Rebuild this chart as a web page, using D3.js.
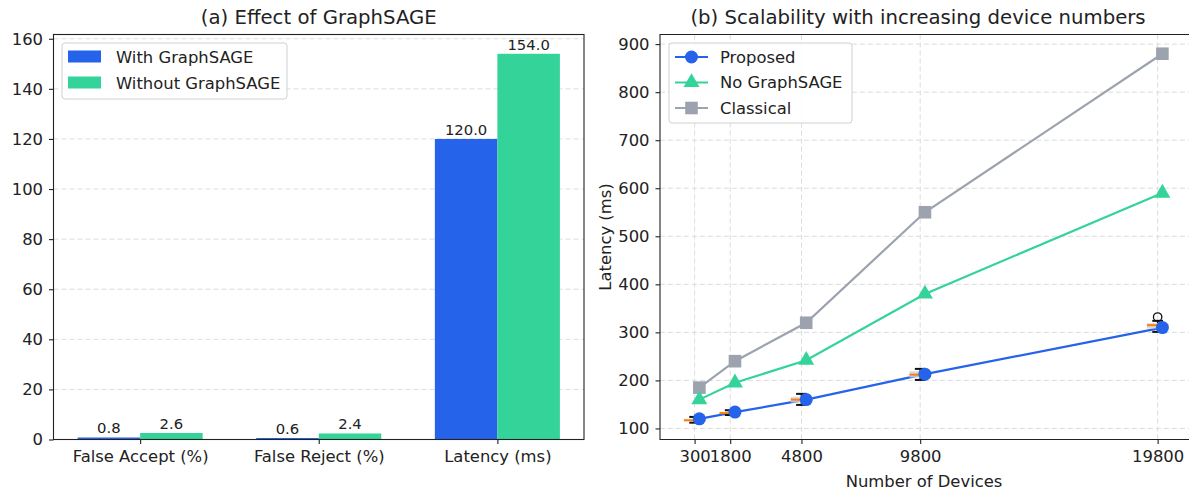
<!DOCTYPE html>
<html>
<head>
<meta charset="utf-8">
<script src="https://cdn.jsdelivr.net/npm/d3@7"></script>
<style>
  body { margin: 0; background: #fff; }
  svg { display: block; font-family: 'DejaVu Sans', sans-serif; }
  .grid line { stroke: #dcdcdc; stroke-dasharray: 5,3; stroke-width: 1; }
</style>
</head>
<body>
<div id="chart"></div>
<script>
// Panel (a) data
const metrics = ['False Accept (%)', 'False Reject (%)', 'Latency (ms)'];
const withGraphSAGE = [0.8, 0.6, 120.0];
const withoutGraphSAGE = [2.6, 2.4, 154.0];
const yTicksA = [0, 20, 40, 60, 80, 100, 120, 140, 160];

// Panel (b) data
const devices = [500, 2000, 5000, 10000, 20000];
const deviceTicks = [300, 1800, 4800, 9800, 19800];
const proposed = [120, 134, 160, 213, 310];
const noGraphSAGE = [160, 195, 242, 380, 590];
const classical = [185, 240, 320, 550, 880];
const yTicksB = [100, 200, 300, 400, 500, 600, 700, 800, 900];

// boxplots of the proposed latency, drawn at the tick positions
const boxMin = [112, 128, 149, 201, 301];
const boxQ1 = [115, 130, 154, 206, 308];
const boxMedian = [117, 132, 160, 212, 315];
const boxQ3 = [120, 135, 166, 219, 319];
const boxMax = [124, 138, 172, 224, 324];
const boxOutliers = [[], [], [], [], [332]];

const blue = '#2563EB', green = '#34D399', gray = '#9CA3AF';
const FONT = "'DejaVu Sans', sans-serif";
const TXT = '16.4px';

const W = 1189, H = 491;
const svg = d3.select('#chart').append('svg').attr('width', W).attr('height', H);

function styleAxis(g) {
  g.select('.domain').remove();
  g.attr('font-family', FONT).attr('font-size', TXT);
  g.selectAll('.tick line').attr('stroke', '#222').attr('stroke-width', 1.1);
  g.selectAll('.tick text').attr('fill', '#222');
}

// ---------- Panel (a) ----------
const a = { left: 53.5, right: 584, top: 34.5, bottom: 439.5 };

const xA = d3.scaleLinear().domain([-0.485, 2.485]).range([a.left, a.right]);
const yA = d3.scaleLinear().domain([0, 161.7]).range([a.bottom, a.top]);
const barW = 0.35;

const gA = svg.append('g');

gA.append('g').attr('class', 'grid')
  .selectAll('line').data(yTicksA).enter().append('line')
  .attr('x1', a.left).attr('x2', a.right)
  .attr('y1', d => yA(d)).attr('y2', d => yA(d));

const series = [
  { name: 'With GraphSAGE', values: withGraphSAGE, color: blue, off: -barW / 2 },
  { name: 'Without GraphSAGE', values: withoutGraphSAGE, color: green, off: barW / 2 }
];

series.forEach(s => {
  gA.selectAll(null).data(s.values).enter().append('rect')
    .attr('x', (d, i) => xA(i + s.off - barW / 2))
    .attr('width', xA(barW) - xA(0))
    .attr('y', d => yA(d))
    .attr('height', d => yA(0) - yA(d))
    .attr('fill', s.color);

  gA.selectAll(null).data(s.values).enter().append('text')
    .attr('x', (d, i) => xA(i + s.off))
    .attr('y', d => yA(d) - 4)
    .attr('text-anchor', 'middle')
    .style('font-size', '14.8px')
    .style('fill', '#222')
    .text(d => d.toFixed(1));
});

gA.append('g')
  .attr('transform', `translate(0,${a.bottom})`)
  .call(d3.axisBottom(xA).tickValues([0, 1, 2]).tickFormat(i => metrics[i]).tickSize(4.5).tickPadding(6))
  .call(styleAxis);

gA.append('g')
  .attr('transform', `translate(${a.left},0)`)
  .call(d3.axisLeft(yA).tickValues(yTicksA).tickSize(4.5).tickPadding(6))
  .call(styleAxis);

gA.append('rect')
  .attr('x', a.left).attr('y', a.top)
  .attr('width', a.right - a.left).attr('height', a.bottom - a.top)
  .attr('fill', 'none').attr('stroke', '#222').attr('stroke-width', 1.1);

gA.append('text')
  .attr('x', (a.left + a.right) / 2).attr('y', 24)
  .attr('text-anchor', 'middle')
  .style('font-size', '19.7px').style('fill', '#222')
  .text('(a) Effect of GraphSAGE');

// legend (a)
const legA = gA.append('g');
legA.append('rect')
  .attr('x', 62).attr('y', 43).attr('width', 225).attr('height', 56).attr('rx', 3)
  .attr('fill', 'white').attr('fill-opacity', 0.85).attr('stroke', '#d0d0d0');
series.forEach((s, i) => {
  const cy = 57 + i * 26;
  legA.append('rect').attr('x', 68).attr('y', cy - 6.5).attr('width', 33).attr('height', 12).attr('fill', s.color);
  legA.append('text').attr('x', 116).attr('y', cy).attr('dy', '0.35em')
    .style('font-size', TXT).style('fill', '#222').text(s.name);
});

// ---------- Panel (b) ----------
const b = { left: 660, right: 1186.3, top: 34.5, bottom: 439.5 };

const xB = d3.scaleLinear().domain([-1157, 21007]).range([b.left, b.right]);
const yB = d3.scaleLinear().domain([77, 920]).range([b.bottom, b.top]);

const gB = svg.append('g');

const gridB = gB.append('g').attr('class', 'grid');
gridB.selectAll(null).data(yTicksB).enter().append('line')
  .attr('x1', b.left).attr('x2', W)
  .attr('y1', d => yB(d)).attr('y2', d => yB(d));
gridB.selectAll(null).data(deviceTicks).enter().append('line')
  .attr('y1', b.top).attr('y2', b.bottom)
  .attr('x1', d => xB(d)).attr('x2', d => xB(d));

const lines = [
  { name: 'Proposed', values: proposed, color: blue, marker: 'circle' },
  { name: 'No GraphSAGE', values: noGraphSAGE, color: green, marker: 'triangle' },
  { name: 'Classical', values: classical, color: gray, marker: 'square' }
];

const line = d3.line().x((d, i) => xB(devices[i])).y(d => yB(d));

function marker(sel, type, color) {
  if (type === 'circle') {
    sel.append('circle').attr('r', 6.5).attr('fill', color);
  } else if (type === 'triangle') {
    sel.append('path').attr('d', d3.symbol(d3.symbolTriangle, 110)()).attr('fill', color);
  } else {
    sel.append('rect').attr('x', -6.3).attr('y', -6.3).attr('width', 12.6).attr('height', 12.6).attr('fill', color);
  }
}

lines.slice().reverse().forEach(s => {
  gB.append('path').datum(s.values)
    .attr('d', line).attr('fill', 'none')
    .attr('stroke', s.color).attr('stroke-width', 2.2);
});

// boxplots
const boxW = 900;
const boxes = gB.append('g');
deviceTicks.forEach((p, i) => {
  const g = boxes.append('g');
  const x0 = xB(p - boxW / 2), x1 = xB(p + boxW / 2);
  const c0 = xB(p - boxW / 4), c1 = xB(p + boxW / 4);
  g.append('rect')
    .attr('x', x0).attr('width', x1 - x0)
    .attr('y', yB(boxQ3[i])).attr('height', yB(boxQ1[i]) - yB(boxQ3[i]))
    .attr('fill', '#d4d4d4').attr('fill-opacity', 0.85);
  [[boxQ3[i], boxMax[i]], [boxQ1[i], boxMin[i]]].forEach(([q, w]) => {
    g.append('line').attr('x1', xB(p)).attr('x2', xB(p))
      .attr('y1', yB(q)).attr('y2', yB(w)).attr('stroke', '#111').attr('stroke-width', 1.5);
    g.append('line').attr('x1', c0).attr('x2', c1)
      .attr('y1', yB(w)).attr('y2', yB(w)).attr('stroke', '#111').attr('stroke-width', 2);
  });
  g.append('line').attr('x1', x0).attr('x2', x1)
    .attr('y1', yB(boxMedian[i])).attr('y2', yB(boxMedian[i]))
    .attr('stroke', '#ff7f0e').attr('stroke-width', 2);
  boxOutliers[i].forEach(o => {
    g.append('circle').attr('cx', xB(p)).attr('cy', yB(o)).attr('r', 4.2)
      .attr('fill', 'none').attr('stroke', '#111').attr('stroke-width', 1.3);
  });
});

lines.slice().reverse().forEach(s => {
  const m = gB.selectAll(null).data(s.values).enter().append('g')
    .attr('transform', (d, i) => `translate(${xB(devices[i])},${yB(d)})`);
  m.each(function () { marker(d3.select(this), s.marker, s.color); });
});

gB.append('g')
  .attr('transform', `translate(0,${b.bottom})`)
  .call(d3.axisBottom(xB).tickValues(deviceTicks).tickFormat(d3.format('d')).tickSize(4.5).tickPadding(6))
  .call(styleAxis);

gB.append('g')
  .attr('transform', `translate(${b.left},0)`)
  .call(d3.axisLeft(yB).tickValues(yTicksB).tickSize(4.5).tickPadding(6))
  .call(styleAxis);

// spines (the right one falls outside the picture)
gB.append('path')
  .attr('d', `M${W + 2},${b.top}H${b.left}V${b.bottom}H${W + 2}`)
  .attr('fill', 'none').attr('stroke', '#222').attr('stroke-width', 1.1);

gB.append('text')
  .attr('x', 918).attr('y', 24)
  .attr('text-anchor', 'middle')
  .style('font-size', '19.7px').style('fill', '#222')
  .text('(b) Scalability with increasing device numbers');

gB.append('text')
  .attr('x', 924).attr('y', 487)
  .attr('text-anchor', 'middle')
  .style('font-size', TXT).style('fill', '#222')
  .text('Number of Devices');

gB.append('text')
  .attr('transform', `translate(611,${(b.top + b.bottom) / 2}) rotate(-90)`)
  .attr('text-anchor', 'middle')
  .style('font-size', TXT).style('fill', '#222')
  .text('Latency (ms)');

// legend (b)
const legB = gB.append('g');
legB.append('rect')
  .attr('x', 669).attr('y', 43).attr('width', 183).attr('height', 80).attr('rx', 3)
  .attr('fill', 'white').attr('fill-opacity', 0.85).attr('stroke', '#d0d0d0');
lines.forEach((s, i) => {
  const cy = 57 + i * 25.5;
  legB.append('line').attr('x1', 675).attr('x2', 708).attr('y1', cy).attr('y2', cy)
    .attr('stroke', s.color).attr('stroke-width', 2.2);
  marker(legB.append('g').attr('transform', `translate(691.5,${cy})`), s.marker, s.color);
  legB.append('text').attr('x', 720).attr('y', cy).attr('dy', '0.35em')
    .style('font-size', TXT).style('fill', '#222').text(s.name);
});
</script>
</body>
</html>
